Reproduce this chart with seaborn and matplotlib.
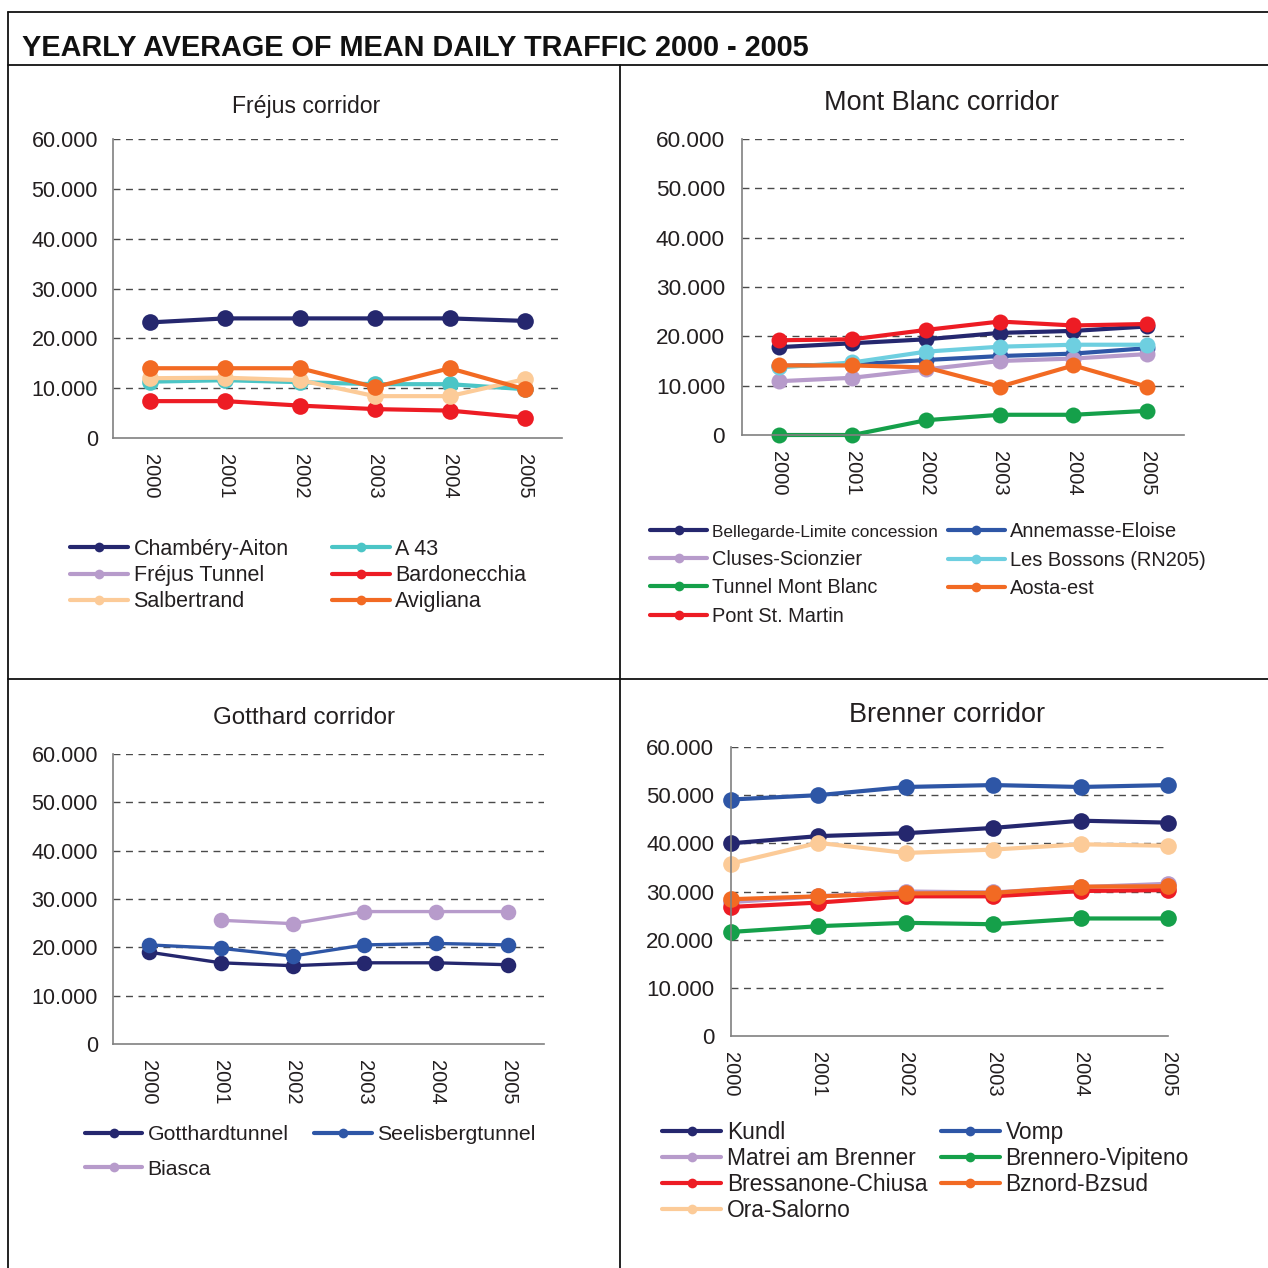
import numpy as np
import pandas as pd
import seaborn as sns
import matplotlib
matplotlib.use("Agg")
import matplotlib.pyplot as plt
from matplotlib.lines import Line2D
from matplotlib.ticker import FuncFormatter, MultipleLocator

# Data
years = [2000, 2001, 2002, 2003, 2004, 2005]
nan = np.nan

# Frejus corridor
frejus_names = ["Chambéry-Aiton", "A 43", "Fréjus Tunnel", "Bardonecchia", "Salbertrand", "Avigliana"]
chambery = [23200, 24000, 24000, 24000, 24000, 23500]
a43 = [11300, 11600, 11200, 10800, 10800, 9800]
frejus_tunnel = [nan, nan, nan, nan, nan, nan]
bardonecchia = [7400, 7400, 6500, 5800, 5500, 4100]
salbertrand = [12000, 12100, 11600, 8400, 8400, 11800]
avigliana = [14000, 14000, 14000, 10200, 14000, 9800]

# Mont Blanc corridor
montblanc_names = ["Bellegarde-Limite concession", "Annemasse-Eloise", "Cluses-Scionzier",
                   "Les Bossons (RN205)", "Tunnel Mont Blanc", "Aosta-est", "Pont St. Martin"]
bellegarde = [17800, 18600, 19400, 20700, 21100, 22000]
annemasse = [14000, 14300, 15200, 16000, 16500, 17600]
cluses = [10900, 11600, 13300, 15000, 15500, 16400]
bossons = [13700, 14700, 16900, 17900, 18300, 18300]
tunnel_mb = [0, 0, 3000, 4100, 4100, 4900]
aosta = [14100, 14100, 13700, 9800, 14100, 9800]
pont = [19200, 19400, 21300, 23000, 22200, 22500]

# Gotthard corridor
gotthard_names = ["Gotthardtunnel", "Seelisbergtunnel", "Biasca"]
gotthardtunnel = [19000, 16800, 16200, 16800, 16800, 16400]
seelisberg = [20500, 19800, 18200, 20500, 20800, 20500]
biasca = [nan, 25600, 24900, 27400, 27400, 27400]

# Brenner corridor
brenner_names = ["Kundl", "Vomp", "Matrei am Brenner", "Brennero-Vipiteno",
                 "Bressanone-Chiusa", "Bznord-Bzsud", "Ora-Salorno"]
kundl = [40000, 41500, 42100, 43200, 44700, 44300]
vomp = [49100, 50000, 51700, 52100, 51700, 52100]
matrei = [27800, 29000, 30000, 29800, 30900, 31600]
brennero = [21600, 22800, 23500, 23200, 24400, 24400]
bressanone = [26800, 27700, 29000, 29000, 30100, 30300]
bznord = [28400, 29000, 29600, 29700, 31000, 31100]
ora = [35800, 40100, 38000, 38700, 39800, 39500]

NAVY, BLUE, LILAC = "#25276e", "#2e56a6", "#b79bcb"
TEAL, CYAN, RED = "#4bc5c6", "#6ecfe0", "#ed1c24"
ORANGE, PEACH, GREEN = "#f26a23", "#fccb98", "#15a04a"
TXT = "#231f20"

panels = [
    dict(title="Fréjus corridor", names=frejus_names,
         values=[chambery, a43, frejus_tunnel, bardonecchia, salbertrand, avigliana],
         colors=[NAVY, TEAL, LILAC, RED, PEACH, ORANGE],
         rect=(113, 139, 562, 438), title_xy=(306, 106), cat=True,
         ms=12, lw=3, tfs=16.6, yfs=15.5, ypad=6.3, lfs=15.5, hlen=2.7,
         leg_xy=(70, 539), lspace=0.24, colspace=2.0),
    dict(title="Mont Blanc corridor", names=montblanc_names,
         values=[bellegarde, annemasse, cluses, bossons, tunnel_mb, aosta, pont],
         colors=[NAVY, BLUE, LILAC, CYAN, GREEN, ORANGE, RED],
         rect=(742, 139, 1184, 435), title_xy=(942, 103), cat=True,
         ms=11.5, lw=3, tfs=19.5, yfs=16.2, ypad=7.7, lfs=14.4, hlen=2.85,
         leg_xy=(650, 522), lspace=0.48, colspace=0.5),
    dict(title="Gotthard corridor", names=gotthard_names,
         values=[gotthardtunnel, seelisberg, biasca],
         colors=[NAVY, BLUE, LILAC],
         rect=(113, 754, 544, 1044), title_xy=(304, 718), cat=True,
         ms=11.2, lw=2.4, tfs=17.4, yfs=15.5, ypad=6.3, lfs=15.3, hlen=2.7,
         leg_xy=(85, 1125), lspace=0.74, colspace=1.2),
    dict(title="Brenner corridor", names=brenner_names,
         values=[kundl, vomp, matrei, brennero, bressanone, bznord, ora],
         colors=[NAVY, BLUE, LILAC, GREEN, RED, ORANGE, PEACH],
         rect=(731, 747, 1168, 1036), title_xy=(947, 715), cat=False,
         ms=12, lw=3, tfs=19.5, yfs=16, ypad=7.7, lfs=16.4, hlen=2.6,
         leg_xy=(662, 1121), lspace=0.125, colspace=0.58),
]

sns.set_style("white")
plt.rcParams["font.family"] = ["Liberation Sans", "DejaVu Sans"]

W = H = 1268
fig = plt.figure(figsize=(W / 100, H / 100), dpi=100)


def fx(x):
    return x / W


def fy(y):
    return 1 - y / H


thousands = FuncFormatter(lambda v, p: f"{int(round(v)):,}".replace(",", "."))

for p in panels:
    x0, y0, x1, y1 = p["rect"]
    ax = fig.add_axes([fx(x0), fy(y1), fx(x1 - x0), (y1 - y0) / H])

    rows = []
    for name, vals in zip(p["names"], p["values"]):
        for yr, v in zip(years, vals):
            rows.append({"year": yr, "traffic": v, "station": name})
    df = pd.DataFrame(rows).dropna()
    pal = dict(zip(p["names"], p["colors"]))
    order = [n for n in p["names"] if n in set(df["station"])]

    sns.lineplot(data=df, x="year", y="traffic", hue="station", hue_order=order,
                 palette=pal, marker="o", markersize=p["ms"], markeredgewidth=0,
                 linewidth=p["lw"], legend=False, ax=ax)
    for ln in ax.lines:
        ln.set_clip_on(False)

    ax.set_ylim(0, 60000)
    ax.yaxis.set_major_locator(MultipleLocator(10000))
    ax.yaxis.set_major_formatter(thousands)
    ax.set_xlabel("")
    ax.set_ylabel("")

    if p["cat"]:
        ax.set_xlim(years[0] - 0.5, years[-1] + 0.5)
        ax.set_xticks(years)
        ax.set_xticks([y - 0.5 for y in years] + [years[-1] + 0.5], minor=True)
        ax.tick_params(axis="x", which="major", length=0, pad=11.5)
        ax.tick_params(axis="x", which="minor", length=4.5, width=1, color="#808080",
                       direction="out")
    else:
        ax.set_xlim(years[0], years[-1])
        ax.set_xticks(years)
        ax.tick_params(axis="x", which="major", length=4.5, width=1, color="#808080",
                       direction="out", pad=7)
    ax.set_xticklabels([str(y) for y in years], rotation=270, fontsize=14.5, color=TXT)
    ax.tick_params(axis="y", length=4.5, width=1, color="#808080", direction="out",
                   pad=p["ypad"], labelsize=p["yfs"], labelcolor=TXT)
    ax.tick_params(axis="x", labelcolor=TXT)

    for yv in range(10000, 60001, 10000):
        ax.axhline(yv, color="#4a4a4a", lw=1.0, ls=(0, (5, 4)), zorder=0)

    sns.despine(ax=ax)
    for s in ["left", "bottom"]:
        ax.spines[s].set_color("#808080")
        ax.spines[s].set_linewidth(1.2)

    fig.text(fx(p["title_xy"][0]), fy(p["title_xy"][1]), p["title"], ha="center",
             va="center", fontsize=p["tfs"], color=TXT)

    handles = [Line2D([], [], color=c, lw=3, marker="o", ms=7, markeredgewidth=0)
               for c in p["colors"]]
    # matplotlib fills legend columns first; reorder so rows read like the original
    idx = list(range(0, len(handles), 2)) + list(range(1, len(handles), 2))
    leg = ax.legend([handles[i] for i in idx], [p["names"][i] for i in idx], ncol=2,
                    loc="upper left", bbox_to_anchor=(fx(p["leg_xy"][0]), fy(p["leg_xy"][1])),
                    bbox_transform=fig.transFigure, frameon=False, fontsize=p["lfs"],
                    handlelength=p["hlen"], handletextpad=0.25, borderpad=0, borderaxespad=0,
                    labelspacing=p["lspace"], columnspacing=p["colspace"])
    for t in leg.get_texts():
        t.set_color(TXT)
        if t.get_text() == "Bellegarde-Limite concession":
            t.set_fontsize(12.4)

# Frame around the whole figure and the four panels
frame = [((8, 12), (1268, 12)), ((8, 65), (1268, 65)), ((8, 12), (8, 1268)),
         ((620, 65), (620, 1268)), ((8, 679), (1268, 679))]
for (ax_, ay_), (bx_, by_) in frame:
    fig.add_artist(Line2D([fx(ax_), fx(bx_)], [fy(ay_), fy(by_)], color="#111111",
                          lw=1.3, transform=fig.transFigure))

fig.text(fx(22), fy(48), "YEARLY AVERAGE OF MEAN DAILY TRAFFIC 2000 - 2005", ha="left",
         va="center", fontsize=20.8, fontweight="bold", color="#111111")

fig.savefig("out.png", dpi=100)
